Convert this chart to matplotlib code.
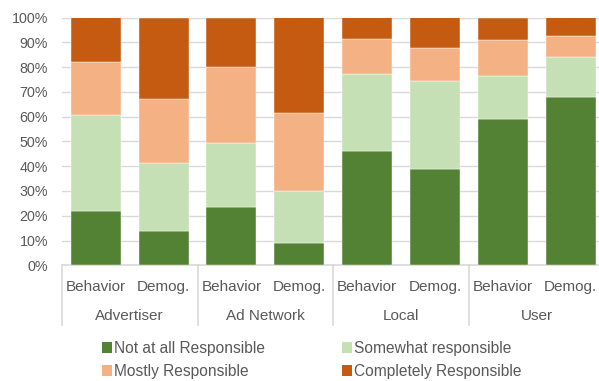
import matplotlib
matplotlib.use("Agg")
import matplotlib.pyplot as plt
from matplotlib.patches import Patch
import matplotlib.transforms as mtransforms

plt.rcParams['font.family'] = ['Liberation Sans', 'DejaVu Sans']

sub_labels = ["Behavior", "Demog.", "Behavior", "Demog.", "Behavior", "Demog.", "Behavior", "Demog."]
groups = ["Advertiser", "Ad Network", "Local", "User"]

series_names = ["Not at all Responsible", "Somewhat responsible",
                "Mostly Responsible", "Completely Responsible"]
not_at_all = [22.0, 13.7, 23.7, 9.1, 46.0, 38.7, 59.1, 68.0]
somewhat = [38.6, 27.7, 25.5, 20.9, 31.4, 35.6, 17.2, 16.0]
mostly = [21.5, 25.7, 30.8, 31.3, 14.0, 13.5, 14.6, 8.6]
completely = [17.9, 32.9, 20.0, 38.7, 8.6, 12.2, 9.1, 7.4]

colors = ["#548235", "#c5e0b4", "#f4b183", "#c55a11"]
text_color = "#595959"
grid_color = "#d9d9d9"

W, H = 599, 381
fig = plt.figure(figsize=(W / 100, H / 100), dpi=100)
# axes placed in pixel terms
ax = fig.add_axes([61.8 / W, (H - 265.3) / H, 542.8 / W, 247.8 / H])

x = list(range(len(sub_labels)))
bottom = [0.0] * len(x)
for vals, color, name in zip([not_at_all, somewhat, mostly, completely], colors, series_names):
    ax.bar(x, vals, width=0.737, bottom=bottom, color=color, label=name,
           edgecolor="white", linewidth=0.3, zorder=3)
    bottom = [b + v for b, v in zip(bottom, vals)]

ax.set_xlim(-0.5, len(x) - 0.5)
ax.set_ylim(0, 100)
ax.set_yticks(range(0, 101, 10))
ax.set_yticklabels([f"{v}%" for v in range(0, 101, 10)], color=text_color, fontsize=10.3)
ax.tick_params(axis='y', length=0, pad=10)
ax.set_xticks([])
ax.grid(axis='y', color=grid_color, linewidth=1, zorder=0)

for side in ["top", "right", "left"]:
    ax.spines[side].set_visible(False)
ax.spines["bottom"].set_color(grid_color)
ax.spines["bottom"].set_linewidth(1.2)

# two-level category axis
trans = mtransforms.blended_transform_factory(ax.transData, ax.transAxes)
ph = 247.8
for i, lab in enumerate(sub_labels):
    ax.text(i, -22 / ph, lab, transform=trans, ha="center", va="center",
            fontsize=11, color=text_color)
for g, name in enumerate(groups):
    ax.text(2 * g + 0.5, -50.7 / ph, name, transform=trans, ha="center", va="center",
            fontsize=11, color=text_color)
for g in range(len(groups) + 1):
    xs = 2 * g - 0.5
    ax.plot([xs, xs], [0, -60 / ph], transform=trans, color=grid_color,
            linewidth=1.2, clip_on=False)

# legend filled row by row: ncol=2 fills columns, so reorder
order = [0, 2, 1, 3]
handles = [Patch(facecolor=colors[i], edgecolor="none") for i in order]
labels = [series_names[i] for i in order]
fig.legend(handles, labels, loc="upper left",
           bbox_to_anchor=(102 / W, 1 - 341 / H), ncol=2, frameon=False,
           fontsize=11.2, labelcolor=text_color, borderpad=0, borderaxespad=0,
           handlelength=0.65, handleheight=0.65, handletextpad=0.15,
           columnspacing=4.9, labelspacing=0.5)

fig.savefig("out.png", dpi=100)
